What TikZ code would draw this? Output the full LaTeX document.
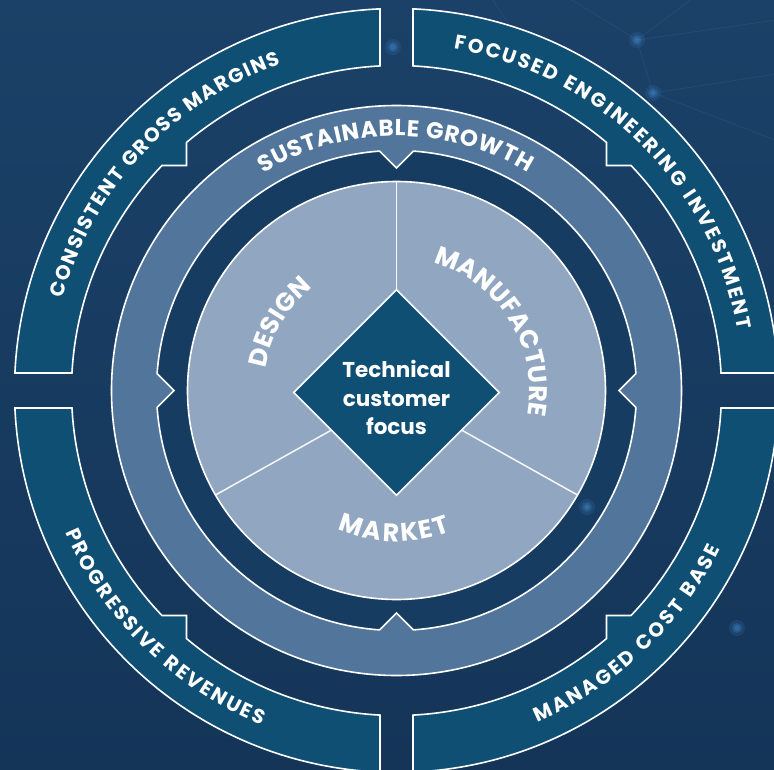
\documentclass[tikz,border=0pt]{standalone}
\usepackage{fontspec}
\setmainfont{Poppins}
\usetikzlibrary{shapes.geometric,decorations.text}

\definecolor{bgtop}{HTML}{1B4168}
\definecolor{bgbot}{HTML}{143558}
\definecolor{bandblue}{HTML}{0F4F74}
\definecolor{ringblue}{HTML}{52769B}
\definecolor{pieblue}{HTML}{91A6C0}
\definecolor{gapblue}{HTML}{173C61}
\definecolor{glowblue}{HTML}{3D80BF}

\newcommand\bandfont{\bfseries\fontsize{20}{20}\selectfont}
\newcommand\growthfont{\bfseries\fontsize{23}{23}\selectfont}
\newcommand\piefont{\bfseries\fontsize{25.5}{25.5}\selectfont}

% curved white label: font, baseline radius, start angle, end angle, text
\newcommand\ringlabel[5]{%
  \path[decorate, decoration={text along path, text color=white,
      text align={fit to path}, text={|#1|#5}}]
    (#3:#2pt) arc[start angle=#3, end angle=#4, radius=#2pt];}

\newcommand\glowdot[1]{%
  \fill[glowblue, opacity=.18] #1 circle[radius=8pt];
  \fill[glowblue, opacity=.3] #1 circle[radius=5pt];
  \fill[glowblue, opacity=.45] #1 circle[radius=2.8pt];}

\tikzset{
  outline/.style={draw=white, line width=1.6pt, line join=miter},
  bandshape/.style={outline, fill=bandblue},
  divider/.style={draw=white!92!pieblue, line width=1.5pt},
  netline/.style={draw=glowblue, opacity=.18, line width=.8pt},
}

\begin{document}
\begin{tikzpicture}[x=1pt, y=1pt]
\useasboundingbox (-396.5,-378.5) rectangle (377.5,390.5);
\clip (-396.5,-378.5) rectangle (377.5,390.5);

% backdrop
\shade[top color=bgtop, bottom color=bgbot] (-396.5,-378.5) rectangle (377.5,390.5);
\draw[netline] (240.5,350.5) -- (390,372);
\draw[netline] (240.5,350.5) -- (160,400);
\draw[netline] (240.5,350.5) -- (256.5,297.5) -- (380,250);
\draw[netline] (256.5,297.5) -- (390,318);
\draw[netline] (90,400) -- (130,340);
\draw[netline] (240.5,350.5) -- (300,395);
\glowdot{(240.5,350.5)}
\glowdot{(256.5,297.5)}
\glowdot{(-3.5,343.5)}
\glowdot{(340.5,-237.5)}

% outer quadrant bands
\path[bandshape] (177.37:382) arc[start angle=177.37, end angle=92.48, radius=382pt]
  -- (92.91:325) arc[start angle=92.91, end angle=130.25, radius=325pt]
  -- (-210,225) -- (136.19:325) arc[start angle=136.19, end angle=176.91, radius=325pt] -- cycle;
\path[bandshape] (2.63:382) arc[start angle=2.63, end angle=87.52, radius=382pt]
  -- (87.09:325) arc[start angle=87.09, end angle=49.75, radius=325pt]
  -- (210,225) -- (43.81:325) arc[start angle=43.81, end angle=3.09, radius=325pt] -- cycle;
\path[bandshape] (182.63:382) arc[start angle=182.63, end angle=267.52, radius=382pt]
  -- (267.09:325) arc[start angle=267.09, end angle=229.75, radius=325pt]
  -- (-210,-225) -- (223.81:325) arc[start angle=223.81, end angle=183.09, radius=325pt] -- cycle;
\path[bandshape] (-2.63:382) arc[start angle=-2.63, end angle=-87.52, radius=382pt]
  -- (-87.09:325) arc[start angle=-87.09, end angle=-49.75, radius=325pt]
  -- (210,-225) -- (-43.81:325) arc[start angle=-43.81, end angle=-3.09, radius=325pt] -- cycle;

% growth ring with its four inward teeth
\path[outline, fill=ringblue] (0,0) circle[radius=285pt];
\path[outline, fill=gapblue]
  (94.04:240) arc[start angle=94.04, end angle=175.96, radius=240pt] -- (-222.5,0)
  -- (184.04:240) arc[start angle=184.04, end angle=265.96, radius=240pt] -- (0,-222.5)
  -- (274.04:240) arc[start angle=274.04, end angle=355.96, radius=240pt] -- (222.5,0)
  -- (4.04:240) arc[start angle=4.04, end angle=85.96, radius=240pt] -- (0,222.5) -- cycle;
\glowdot{(190.5,-116.5)}

% three-sector disc
\path[outline, fill=pieblue] (0,0) circle[radius=209pt];
\node[diamond, aspect=1, fill=bandblue, draw=white, line width=1.6pt,
      minimum width=206pt, minimum height=206pt, inner sep=0pt,
      text=white, font=\bfseries\fontsize{21.5}{28.5}\selectfont] (focus) at (0,-2)
  {\raisebox{-8pt}[\height][\depth]{\begin{tabular}{@{}c@{}}Technical\\customer\\focus\end{tabular}}};
\draw[divider] (focus.north) -- (90:209);
\draw[divider] (focus.210) -- (210:209);
\draw[divider] (focus.330) -- (330:209);

% labels
\ringlabel{\bandfont}{346.5}{164.6}{109.5}{CONSISTENT GROSS MARGINS}
\ringlabel{\bandfont}{346.5}{80.5}{10.1}{FOCUSED ENGINEERING INVESTMENT}
\ringlabel{\bandfont}{360.5}{203.2}{248}{PROGRESSIVE REVENUES}
\ringlabel{\bandfont}{360.5}{293}{334}{MANAGED COST BASE}
\ringlabel{\growthfont}{254.5}{121.5}{59}{SUSTAINABLE GROWTH}
\ringlabel{\piefont}{133}{170.3}{129.2}{DESIGN}
\ringlabel{\piefont}{133}{74}{-10.8}{MANUFACTURE}
\ringlabel{\piefont}{151}{247}{291}{MARKET}
\end{tikzpicture}
\end{document}
